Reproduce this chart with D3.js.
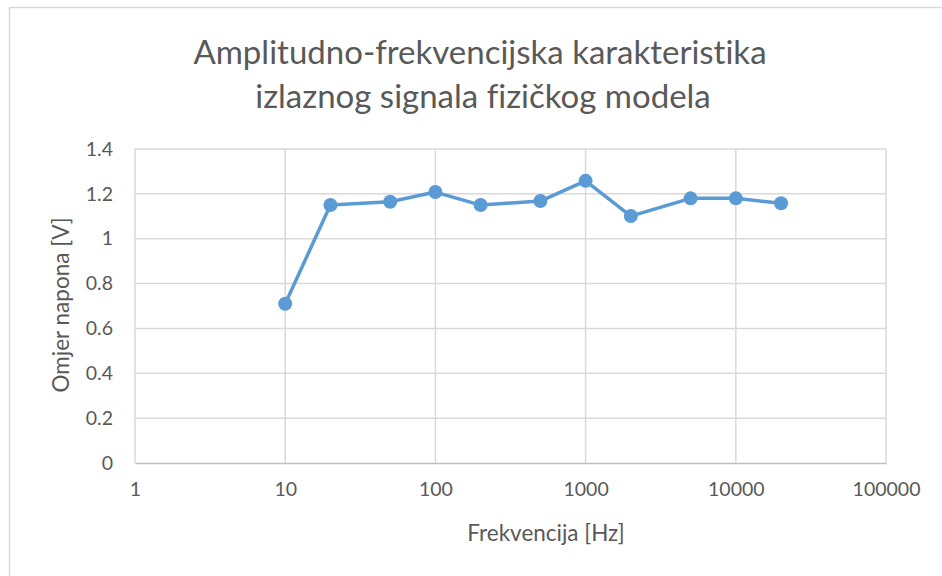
<!DOCTYPE html>
<html>
<head>
<meta charset="utf-8">
<script src="https://cdn.jsdelivr.net/npm/d3@7"></script>
<style>
  body { margin: 0; background: #fff; }
  svg { display: block; font-family: Lato, "Open Sans", sans-serif; font-variant-ligatures: none; }
</style>
</head>
<body>
<svg id="chart" width="942" height="576"></svg>
<script>
// data
const frequencies = [10, 20, 50, 100, 200, 500, 1000, 2000, 5000, 10000, 20000];
const ratios = [0.71, 1.15, 1.165, 1.208, 1.15, 1.168, 1.258, 1.101, 1.18, 1.18, 1.158];
const xTicks = [1, 10, 100, 1000, 10000, 100000];
const yTicks = [0, 0.2, 0.4, 0.6, 0.8, 1, 1.2, 1.4];
const titleLines = ['Amplitudno-frekvencijska karakteristika', 'izlaznog signala fizičkog modela'];
const xLabel = 'Frekvencija [Hz]';
const yLabel = 'Omjer napona [V]';

const svg = d3.select('#chart');
const textColor = '#595959';
const gridColor = '#d9d9d9';
const lineColor = '#5b9bd5';

// outer chart frame (only top/left visible, rest cropped)
svg.append('rect')
    .attr('x', 9.5).attr('y', 7.5)
    .attr('width', 960).attr('height', 600)
    .attr('fill', 'none')
    .attr('stroke', gridColor)
    .attr('stroke-width', 1.5);

const x = d3.scaleLog().domain([1, 100000]).range([135, 886]);
const y = d3.scaleLinear().domain([0, 1.4]).range([463, 149]);

// gridlines
svg.append('g')
    .selectAll('line.h')
    .data(yTicks.slice(1))
    .join('line')
    .attr('x1', x(1)).attr('x2', x(100000))
    .attr('y1', d => y(d)).attr('y2', d => y(d))
    .attr('stroke', gridColor).attr('stroke-width', 1.5);

svg.append('g')
    .selectAll('line.v')
    .data(xTicks)
    .join('line')
    .attr('x1', d => x(d)).attr('x2', d => x(d))
    .attr('y1', y(0)).attr('y2', y(1.4))
    .attr('stroke', gridColor).attr('stroke-width', 1.5);

// axes
const xAxis = svg.append('g')
    .attr('transform', `translate(0,${y(0)})`)
    .call(d3.axisBottom(x).tickValues(xTicks).tickFormat(d3.format('d')).tickSize(0).tickPadding(19));
xAxis.select('.domain').attr('stroke', '#bfbfbf').attr('stroke-width', 1.5);

const yAxis = svg.append('g')
    .attr('transform', `translate(${x(1)},0)`)
    .call(d3.axisLeft(y).tickValues(yTicks).tickFormat(d => String(d)).tickSize(0).tickPadding(22));
yAxis.select('.domain').remove();

[xAxis, yAxis].forEach(g => {
    g.attr('font-size', 19.5).attr('font-family', 'Lato, "Open Sans", sans-serif');
    g.selectAll('.tick text').attr('fill', textColor);
});

// series
const line = d3.line()
    .x((d, i) => x(frequencies[i]))
    .y(d => y(d));

svg.append('path')
    .datum(ratios)
    .attr('d', line)
    .attr('fill', 'none')
    .attr('stroke', lineColor)
    .attr('stroke-width', 3.5)
    .attr('stroke-linejoin', 'round');

svg.append('g')
    .selectAll('circle')
    .data(ratios)
    .join('circle')
    .attr('cx', (d, i) => x(frequencies[i]))
    .attr('cy', d => y(d))
    .attr('r', 7)
    .attr('fill', lineColor);

// title
svg.append('text')
    .attr('x', 480).attr('y', 64)
    .attr('text-anchor', 'middle')
    .attr('fill', textColor)
    .style('font-size', '33px')
    .text(titleLines[0]);

svg.append('text')
    .attr('x', 483).attr('y', 108)
    .attr('text-anchor', 'middle')
    .attr('fill', textColor)
    .style('font-size', '33px')
    .text(titleLines[1]);

// axis titles
svg.append('text')
    .attr('x', 546).attr('y', 541)
    .attr('text-anchor', 'middle')
    .attr('fill', textColor)
    .style('font-size', '22.5px')
    .text(xLabel);

svg.append('text')
    .attr('transform', 'translate(69,305) rotate(-90)')
    .attr('text-anchor', 'middle')
    .attr('fill', textColor)
    .style('font-size', '22.5px')
    .text(yLabel);
</script>
</body>
</html>
